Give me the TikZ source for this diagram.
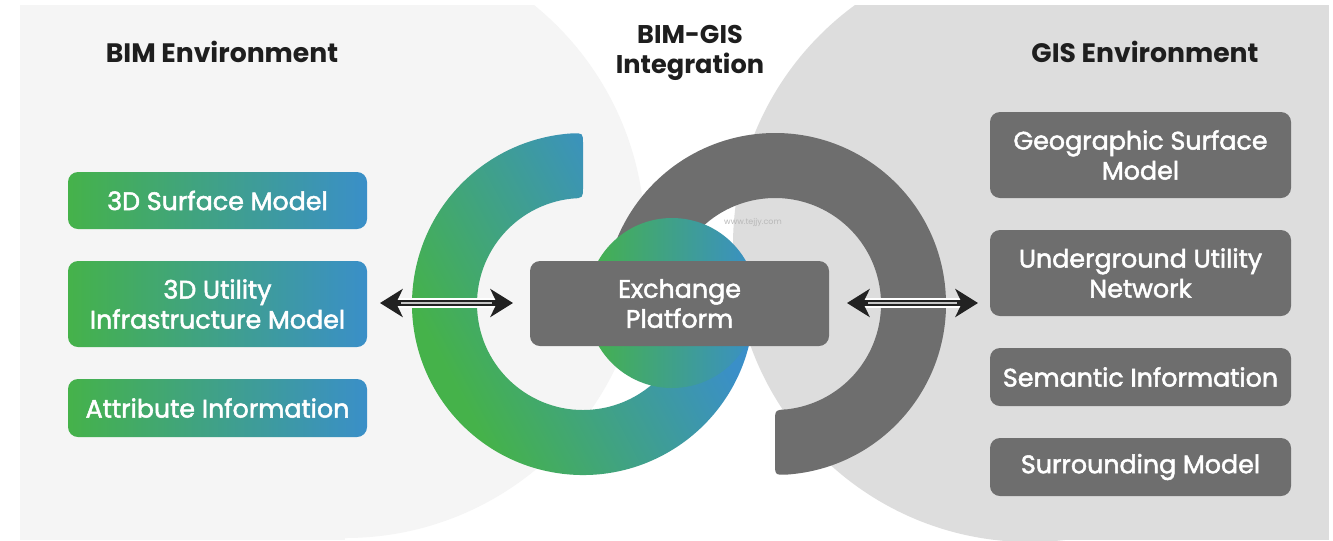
\documentclass[tikz,border=0pt]{standalone}
\usepackage{fontspec}
\setmainfont{Poppins}
\newfontfamily\boxfont{Poppins}[FakeBold=2]
\usetikzlibrary{calc,arrows.meta}
\definecolor{bimbg}{HTML}{F5F5F5}
\definecolor{gisbg}{HTML}{DDDDDD}
\definecolor{darkg}{HTML}{6E6E6E}
\definecolor{gA}{HTML}{45B24A}
\definecolor{gB}{HTML}{3A8FC8}
\definecolor{ink}{HTML}{1E1E1E}
\definecolor{arr}{HTML}{222222}
\pgfdeclarehorizontalshading{ringgrad}{100bp}{color(0bp)=(gA); color(30bp)=(gA); color(66bp)=(gB); color(100bp)=(gB)}
\begin{document}
\begin{tikzpicture}[x=0.75pt,y=-0.75pt,
  greenbox/.style={rounded corners=7.5pt, left color=gA, right color=gB, minimum width=224.25pt, inner sep=0pt, text=white, font=\boxfont\fontsize{19}{22.5}\selectfont, align=center},
  graybox/.style={rounded corners=7.5pt, fill=darkg, minimum width=225.75pt, inner sep=0pt, text=white, font=\boxfont\fontsize{19}{22.5}\selectfont, align=center},
  titletext/.style={font=\bfseries\fontsize{20}{22.5}\selectfont, text=ink, align=center},
  ringshade/.style={shading=ringgrad, shading angle=28},
  whiteband/.style={white, line width=7.5pt, shorten <=12pt, shorten >=12pt},
  arrowshaft/.style={arr, line width=3.8pt, {Stealth[length=17pt,width=21pt,inset=5pt]}-{Stealth[length=17pt,width=21pt,inset=5pt]}},
  shaftline/.style={gray!45, line width=0.8pt, shorten <=16pt, shorten >=16pt}
]
\useasboundingbox (0,0) rectangle (1333,540);
\fill[white] (0,0) rectangle (1333,540);
% environments
\begin{scope}
  \clip (20,5) rectangle (1329,540);
  \fill[bimbg] (20,5) rectangle (345,540);
  \fill[bimbg] (345,238) circle[radius=300];
  \fill[gisbg] (1027,5) rectangle (1329,540);
  \fill[gisbg] (1030,245) circle[radius=297];
\end{scope}
% rings
\coordinate (gc) at (583,304);
\coordinate (dc) at (775,304);
\fill[darkg] (775,422) -- (775,463) .. controls (775,475) .. ($(dc)+(85.98:171)$)
  arc[start angle=85.98, end angle=-190, radius=171] -- ($(dc)+(-190:106)$)
  arc[start angle=-190, end angle=83.51, radius=106] .. controls (775,410) .. (775,422) -- cycle;
\shade[ringshade] (583,144) -- (583,187) .. controls (583,198) .. ($(gc)+(-95.95:106)$)
  arc[start angle=-95.95, end angle=-350, radius=106] -- ($(gc)+(-350:171)$)
  arc[start angle=-350, end angle=-93.69, radius=171] .. controls (583,133) .. (583,144) -- cycle;
\shade[left color=gA, right color=gB] (672,303) circle[radius=85];
\node[font=\fontsize{6}{7}\selectfont, text=black!28, inner sep=0pt] (wm) at (753,222) {www.tejjy.com};
% centre box
\node[graybox, minimum width=224.25pt, minimum height=63.75pt] (ex) at (679.5,303.5) {Exchange\\Platform};
% arrows
\coordinate (la) at (380,303);
\coordinate (lb) at (513,303);
\coordinate (ra) at (847,303);
\coordinate (rb) at (978,303);
\draw[whiteband] (la) -- (lb);
\draw[arrowshaft] (la) -- (lb);
\draw[shaftline] (la) -- (lb);
\draw[whiteband] (ra) -- (rb);
\draw[arrowshaft] (ra) -- (rb);
\draw[shaftline] (ra) -- (rb);
% titles
\node[titletext] (tbim) at (222,52) {BIM Environment};
\node[titletext] (tgis) at (1145,52) {GIS Environment};
\node[titletext, font=\bfseries\fontsize{19.2}{22.5}\selectfont] (tint) at (690,52.5) {BIM-GIS\\Integration};
% BIM boxes
\node[greenbox, minimum height=42.75pt] (l1) at (217.5,200.5) {3D Surface Model};
\node[greenbox, minimum height=64.5pt] (l2) at (217.5,304) {3D Utility\\Infrastructure Model};
\node[greenbox, minimum height=43.5pt] (l3) at (217.5,408) {Attribute Information};
% GIS boxes
\node[graybox, minimum height=64.5pt] (r1) at (1140.5,155) {Geographic Surface\\Model};
\node[graybox, minimum height=64.5pt] (r2) at (1140.5,273) {Underground Utility\\Network};
\node[graybox, minimum height=43.5pt] (r3) at (1140.5,377) {Semantic Information};
\node[graybox, minimum height=43.5pt] (r4) at (1140.5,467) {Surrounding Model};
\end{tikzpicture}
\end{document}
